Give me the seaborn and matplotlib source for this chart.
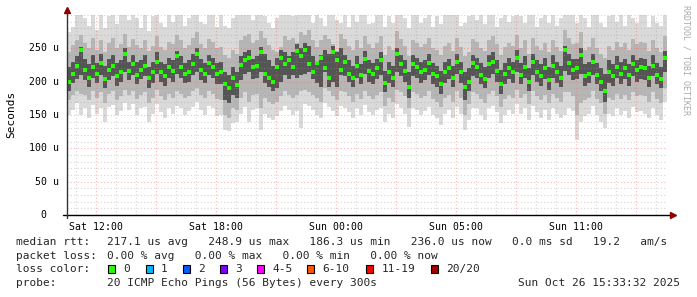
import numpy as np
import matplotlib
matplotlib.use("Agg")
import matplotlib.pyplot as plt
from matplotlib.patches import Rectangle
from matplotlib.ticker import MultipleLocator, FixedLocator
import seaborn as sns

# ---------------- data (microseconds) ----------------
# one value per 12-minute step, 150 steps covering 30 real hours
median_rtt = [
    200, 212, 224, 248, 218, 206, 222, 212, 228, 204, 218, 224, 208, 214, 242, 216, 226, 210, 218, 224,
    205, 214, 230, 214, 208, 222, 216, 238, 222, 212, 215, 226, 242, 218, 212, 228, 222, 212,
    214, 196, 190, 205, 195, 225, 232, 236, 222, 224, 244, 212, 206, 200, 222, 236, 226, 232, 222, 246,
    238, 248, 226, 214, 228, 235, 220, 206, 244, 232, 218, 230, 212, 206, 224, 210, 234, 216,
    212, 220, 232, 198, 214, 206, 242, 226, 216, 192, 226, 222, 214, 218, 228, 212, 208, 196, 214, 220,
    206, 230, 214, 192, 200, 228, 222, 210, 204, 226, 230, 216, 196, 212, 220, 214, 236,
    210, 222, 200, 230, 214, 208, 220, 202, 224, 214, 206, 247, 228, 218, 220, 240, 208, 212, 230, 210,
    200, 186, 214, 208, 222, 212, 220, 210, 226, 218, 222, 220, 206, 224, 210, 204, 236,
]
ping_max = [
    275, 282, 300, 305, 296, 284, 305, 278, 300, 280, 298, 305, 286, 300, 310, 292, 305, 296, 280, 300,
    276, 298, 305, 288, 282, 300, 290, 310, 300, 284, 296, 305, 310, 290, 286, 305, 300, 282,
    300, 284, 280, 296, 305, 300, 310, 305, 292, 300, 310, 298, 288, 280, 296, 305, 300, 310, 298, 305,
    310, 305, 300, 288, 305, 296, 284, 310, 300, 292, 288, 300, 282, 300, 290, 305, 300, 286,
    288, 305, 300, 282, 298, 288, 310, 305, 296, 280, 300, 310, 288, 296, 305, 282, 298, 286, 300, 305,
    310, 300, 284, 288, 298, 305, 292, 300, 286, 305, 300, 282, 296, 305, 290, 298, 310,
    298, 288, 305, 300, 282, 296, 305, 288, 300, 284, 296, 310, 305, 300, 288, 310, 296, 282, 305, 300,
    288, 282, 298, 305, 290, 300, 284, 305, 296, 288, 300, 305, 282, 298, 288, 284, 300,
]
ping_upper = [
    245, 255, 262, 270, 258, 250, 265, 248, 262, 245, 258, 266, 250, 256, 272, 252, 264, 255, 250, 262,
    246, 254, 268, 252, 248, 260, 256, 270, 262, 250, 255, 266, 274, 256, 250, 264, 260, 250,
    252, 240, 236, 248, 242, 262, 268, 272, 258, 262, 276, 266, 255, 248, 244, 252, 268, 262, 266, 258,
    275, 270, 278, 262, 252, 262, 270, 264, 256, 246, 272, 264, 254, 248, 262, 250, 268, 256,
    250, 258, 268, 240, 254, 248, 276, 264, 254, 238, 262, 258, 252, 256, 266, 250, 248, 240, 254, 258,
    246, 266, 252, 238, 244, 264, 260, 250, 246, 262, 268, 256, 240, 252, 258, 254, 270,
    250, 262, 242, 266, 254, 248, 258, 244, 262, 252, 246, 278, 266, 256, 258, 274, 248, 252, 266, 250,
    242, 236, 254, 248, 260, 252, 258, 248, 264, 256, 260, 258, 246, 262, 250, 244, 268,
]
core_upper = [
    222, 230, 238, 252, 234, 226, 240, 228, 242, 224, 234, 240, 228, 232, 250, 230, 240, 230, 232, 240,
    222, 230, 244, 230, 226, 236, 232, 246, 238, 228, 232, 242, 250, 234, 228, 240, 236, 228,
    230, 214, 210, 222, 214, 238, 244, 248, 234, 238, 252, 242, 232, 224, 236, 248, 244, 238, 244, 256,
    250, 258, 254, 238, 230, 240, 248, 242, 254, 244, 250, 240, 232, 224, 238, 226, 246, 232,
    228, 234, 244, 216, 230, 224, 250, 240, 232, 214, 240, 236, 230, 232, 242, 228, 224, 216, 230, 234,
    224, 242, 230, 214, 220, 240, 236, 228, 222, 240, 244, 232, 218, 228, 236, 230, 248,
    228, 238, 220, 242, 232, 226, 236, 222, 240, 230, 224, 254, 242, 234, 234, 250, 226, 230, 242, 228,
    220, 212, 232, 226, 238, 230, 234, 226, 240, 232, 236, 234, 224, 240, 228, 222, 246,
]
core_lower = [
    186, 198, 204, 210, 202, 192, 206, 198, 210, 190, 202, 208, 194, 200, 214, 202, 210, 196, 204, 208,
    190, 198, 212, 200, 194, 206, 200, 212, 206, 198, 200, 210, 214, 202, 198, 210, 206, 196,
    196, 172, 168, 180, 176, 202, 212, 214, 204, 206, 214, 198, 192, 186, 190, 200, 210, 204, 210, 206,
    210, 212, 214, 204, 198, 192, 214, 192, 200, 192, 210, 208, 200, 192, 206, 196, 212, 200,
    196, 204, 210, 184, 198, 192, 214, 208, 200, 176, 208, 206, 198, 202, 210, 196, 192, 182, 198, 204,
    192, 212, 198, 172, 186, 208, 206, 196, 190, 206, 212, 200, 182, 196, 204, 198, 214,
    196, 206, 186, 210, 200, 194, 204, 188, 206, 198, 192, 216, 210, 202, 204, 212, 194, 198, 210, 196,
    186, 170, 198, 194, 206, 196, 204, 194, 208, 200, 204, 202, 192, 208, 196, 190, 214,
]
ping_lower = [
    172, 180, 186, 182, 180, 172, 186, 176, 184, 168, 182, 186, 172, 178, 188, 180, 186, 174, 180, 184,
    168, 176, 188, 178, 172, 182, 176, 186, 182, 176, 178, 186, 190, 180, 176, 186, 182, 174,
    172, 150, 146, 160, 158, 176, 184, 170, 180, 182, 160, 176, 170, 166, 170, 178, 186, 180, 176, 180,
    186, 188, 184, 180, 176, 170, 190, 186, 178, 172, 186, 184, 178, 170, 182, 174, 186, 178,
    174, 180, 184, 164, 176, 170, 188, 184, 178, 160, 184, 182, 176, 178, 186, 174, 170, 162, 176, 180,
    170, 186, 176, 150, 166, 184, 182, 174, 168, 182, 186, 178, 162, 174, 180, 176, 188,
    176, 182, 166, 186, 178, 172, 180, 168, 182, 176, 170, 184, 184, 178, 150, 168, 172, 176, 186, 174,
    168, 152, 176, 172, 182, 174, 180, 172, 184, 178, 180, 178, 170, 184, 174, 168, 190,
]
ping_min = [
    150, 158, 168, 150, 160, 145, 165, 152, 160, 140, 162, 165, 150, 156, 168, 158, 166, 150, 160, 162,
    140, 152, 166, 155, 146, 160, 152, 164, 160, 150, 156, 162, 170, 158, 150, 164, 160, 148,
    150, 128, 126, 138, 140, 152, 162, 140, 158, 160, 128, 152, 146, 142, 148, 156, 164, 158, 150, 156,
    130, 166, 164, 158, 150, 145, 168, 162, 156, 148, 164, 160, 154, 146, 160, 150, 165, 155,
    150, 158, 160, 140, 152, 145, 166, 160, 152, 132, 160, 158, 150, 156, 162, 150, 146, 135, 152, 158,
    146, 162, 152, 128, 142, 160, 160, 150, 142, 160, 164, 154, 138, 150, 158, 152, 166,
    152, 160, 142, 164, 154, 146, 158, 142, 160, 152, 146, 150, 160, 156, 112, 140, 148, 152, 164, 150,
    140, 130, 152, 148, 160, 150, 156, 146, 162, 154, 156, 152, 145, 160, 150, 142, 170,
]

x_tick_hours = [0, 6, 12, 18, 24]
x_tick_labels = ["Sat 12:00", "Sat 18:00", "Sun 00:00", "Sun 05:00", "Sun 11:00"]
y_tick_values = [0, 50, 100, 150, 200, 250]
y_tick_labels = ["0\u2007\u2007", "50 u", "100 u", "150 u", "200 u", "250 u"]

loss_labels = ["0", "1", "2", "3", "4-5", "6-10", "11-19", "20/20"]
loss_colors = ["#26ff00", "#00b8ff", "#0059ff", "#7e00ff", "#ff00ff", "#ff5500", "#ff0000", "#a10000"]

stats_line1 = "217.1 us avg   248.9 us max   186.3 us min   236.0 us now   0.0 ms sd   19.2   am/s"
stats_line2 = "0.00 % avg   0.00 % max   0.00 % min   0.00 % now"
probe_text = "20 ICMP Echo Pings (56 Bytes) every 300s"
stamp_text = "Sun Oct 26 15:33:32 2025"

START_H = -1.441   # hours relative to Sat 12:00
STEP_H = 0.2

# ---------------- figure ----------------
sns.set_style("white")
plt.rcParams['font.family'] = ['DejaVu Sans Mono', 'DejaVu Sans']

W, H = 697, 297
fig = plt.figure(figsize=(W / 100, H / 100), dpi=100)
fig.patch.set_facecolor("white")


def fx(px):
    return px / W


def fy(py):
    return 1 - py / H


ax = fig.add_axes([fx(67), fy(215), 600 / W, 200 / H])

n = len(median_rtt)
edges = START_H + STEP_H * np.arange(n + 1)
mids = edges[:-1] + STEP_H / 2


def ext(a):
    a = np.asarray(a, dtype=float)
    return np.append(a, a[-1])


ax.fill_between(edges, ext(ping_min), ext(ping_max), step="post",
                color="#dadada", linewidth=0, zorder=1)
ax.fill_between(edges, ext(ping_lower), ext(ping_upper), step="post",
                color="#b6b6b6", linewidth=0, zorder=1.1)
ax.fill_between(edges, ext(core_lower), ext(core_upper), step="post",
                color="#555555", linewidth=0, zorder=1.2)

sns.scatterplot(x=mids, y=median_rtt, ax=ax, marker="s", s=9, color="#26ff00",
                linewidth=0, edgecolor="none", zorder=4, legend=False)

ax.set_xlim(START_H, START_H + n * STEP_H)
ax.set_ylim(0, 300)

# grid
ax.xaxis.set_major_locator(MultipleLocator(3))
ax.xaxis.set_minor_locator(MultipleLocator(1))
ax.yaxis.set_major_locator(FixedLocator([50, 100, 150, 200, 250]))
ax.yaxis.set_minor_locator(MultipleLocator(10))
ax.set_axisbelow(False)
ax.grid(which="minor", color="#9a9a9a", alpha=0.4, linestyle=(0, (1, 2)), linewidth=0.8)
ax.grid(which="major", color="#ff5a5a", alpha=0.45, linestyle=(0, (1, 2)), linewidth=0.8)
ax.tick_params(which="both", length=0)
ax.set_xticklabels([])
ax.set_yticklabels([])

for s in ax.spines.values():
    s.set_visible(False)

# tick labels placed through the axes' own scales
for h, lab in zip(x_tick_hours, x_tick_labels):
    ax.annotate(lab, xy=(h, 0), xycoords=("data", "axes fraction"),
                xytext=(0, -5), textcoords="offset points",
                ha="center", va="top", fontsize=7.1, color="black")
for v, lab in zip(y_tick_values, y_tick_labels):
    ax.annotate(lab, xy=(0, v), xycoords=("axes fraction", "data"),
                xytext=(-6, 0), textcoords="offset points",
                ha="right", va="center", fontsize=7.1, color="black")

# axis lines with arrows
ax.plot([-4 / 600, 1 + 4 / 600], [0, 0], transform=ax.transAxes, color="black",
        lw=1.0, clip_on=False, zorder=6)
ax.plot([1 + 6 / 600], [0], transform=ax.transAxes, marker=">", ms=4.2,
        color="#8b0000", clip_on=False, zorder=7)
ax.plot([0, 0], [-3 / 200, 1 + 3 / 200], transform=ax.transAxes, color="#333333",
        lw=1.0, clip_on=False, zorder=6)
ax.plot([0], [1 + 5 / 200], transform=ax.transAxes, marker="^", ms=4.2,
        color="#8b0000", clip_on=False, zorder=7)

# y axis title and watermark
fig.text(fx(11), fy(114), "Seconds", rotation=90, ha="center", va="center",
         fontsize=8, color="black")
fig.text(fx(686), fy(60), "RRDTOOL / TOBI OETIKER", rotation=270, ha="center",
         va="center", fontsize=6, color="#aaaaaa")

# legend / statistics
FS = 8
fig.text(fx(16), fy(245), "median rtt:", fontsize=FS, va="baseline", ha="left")
fig.text(fx(107), fy(245), stats_line1, fontsize=FS, va="baseline", ha="left")
fig.text(fx(16), fy(258.7), "packet loss:", fontsize=FS, va="baseline", ha="left")
fig.text(fx(107), fy(258.7), stats_line2, fontsize=FS, va="baseline", ha="left")
fig.text(fx(16), fy(272.4), "loss color:", fontsize=FS, va="baseline", ha="left")

box_x = [108, 145.7, 182.7, 219.7, 256.7, 307, 366, 430.7]
for bx, lab, col in zip(box_x, loss_labels, loss_colors):
    fig.patches.append(Rectangle((fx(bx), fy(272.6)), 7.4 / W, 7.4 / H,
                                 transform=fig.transFigure, facecolor=col,
                                 edgecolor="black", linewidth=0.8))
    fig.text(fx(bx + 15.5), fy(272.4), lab, fontsize=FS, va="baseline", ha="left")

fig.text(fx(16), fy(286.1), "probe:", fontsize=FS, va="baseline", ha="left")
fig.text(fx(107), fy(286.1), probe_text, fontsize=FS, va="baseline", ha="left")
fig.text(fx(680), fy(286.1), stamp_text, fontsize=FS, va="baseline", ha="right")

fig.savefig("out.png", dpi=100, facecolor="white")
